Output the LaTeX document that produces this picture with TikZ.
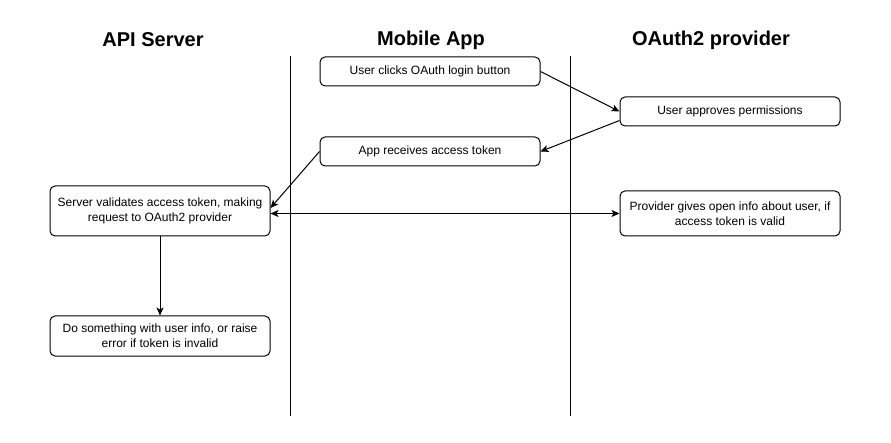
\documentclass[tikz,border=0pt]{standalone}
\usepackage{fontspec}
\setmainfont{Liberation Sans}
\usepackage{tikz}
\usetikzlibrary{arrows.meta}
\usetikzlibrary{shapes}

\tikzset{
    lane/.style = {font=\bfseries\fontsize{20}{24}\selectfont},
    stepbox/.style = {draw, line width=1pt, rounded corners=5pt,
        minimum width=220pt, align=center,
        font=\fontsize{12}{15}\selectfont, inner sep=0pt},
    flow/.style = {line width=1pt, ->},
    >={Stealth[length=8pt,width=7pt,inset=2pt]}
}

\begin{document}
\begin{tikzpicture}[x=1pt, y=-1pt]
        \useasboundingbox (0, 0) rectangle (891, 443);

        % lane titles
        \node [lane] (apititle) at (153, 40) {API Server};
        \node [lane] (apptitle) at (431, 40) {Mobile App};
        \node [lane] (oauthtitle) at (711, 40) {OAuth2 provider};

        % lane separators
        \draw [line width=1pt] (290, 56) -- (290, 416);
        \draw [line width=1pt] (570, 56) -- (570, 416);

        % steps
        \node [stepbox, minimum height=29pt] (click) at (430, 71.5)
            {User clicks OAuth login button};
        \node [stepbox, minimum height=29pt] (approve) at (730, 111.5)
            {User approves permissions};
        \node [stepbox, minimum height=29pt] (receive) at (430, 151.5)
            {App receives access token};
        \node [stepbox, minimum height=50pt] (validate) at (160, 211)
            {Server validates access token, making\\request to OAuth2 provider};
        \node [stepbox, minimum height=45pt] (info) at (730, 213.5)
            {Provider gives open info about user, if\\access token is valid};
        \node [stepbox, minimum height=40pt] (result) at (160, 336)
            {Do something with user info, or raise\\error if token is invalid};

        % connectors
        \draw [flow] (click.east) -- (approve.west);
        \draw [flow] ([yshift=-9pt]approve.west) -- (receive.east);
        \draw [flow] (receive.west) -- ([yshift=3pt]validate.east);
        \draw [flow, <->] (validate.east |- info.west) -- (info.west);
        \draw [flow] (validate.south) -- (result.north);
    \end{tikzpicture}
\end{document}
